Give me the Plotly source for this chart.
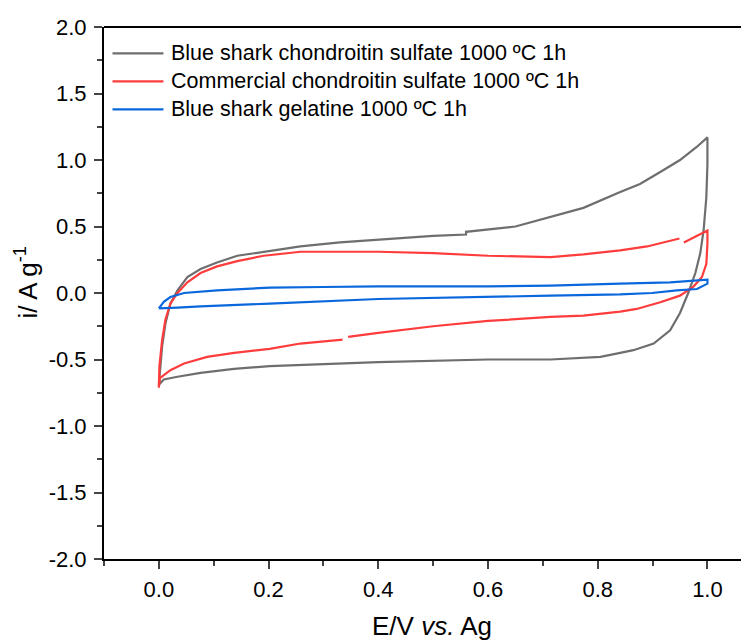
import plotly.graph_objects as go

# Blue shark chondroitin sulfate 1000 ºC 1h (forward sweep, then reverse sweep)
gray_x = [0.0, 0.003, 0.006, 0.012, 0.021, 0.034, 0.052, 0.076, 0.106, 0.143, 0.191, 0.258, 0.33, 0.40, 0.50, 0.56, 0.56, 0.65,
          0.714, 0.774, 0.841, 0.877, 0.914, 0.950, 0.981, 1.0,
          1.0, 0.998, 0.993, 0.987, 0.978, 0.965, 0.950, 0.932, 0.902, 0.865, 0.841, 0.805, 0.714, 0.60, 0.40,
          0.258, 0.202, 0.137, 0.076, 0.034, 0.009, 0.0]
gray_y = [-0.69, -0.55, -0.40, -0.23, -0.08, 0.02, 0.12, 0.18, 0.23, 0.28, 0.31, 0.35, 0.38, 0.40, 0.43, 0.44, 0.46, 0.50,
          0.57, 0.64, 0.76, 0.82, 0.91, 1.00, 1.10, 1.17,
          0.97, 0.72, 0.47, 0.30, 0.15, 0.00, -0.15, -0.28, -0.38, -0.43, -0.45, -0.48, -0.50, -0.50, -0.52,
          -0.54, -0.55, -0.57, -0.60, -0.63, -0.65, -0.69]

# Commercial chondroitin sulfate 1000 ºC 1h
red_x = [0.0, 0.001, 0.006, 0.012, 0.021, 0.034, 0.052, 0.076, 0.106, 0.143, 0.191, 0.258, 0.30, 0.40, 0.50, 0.60,
         0.714, 0.774, 0.841, 0.890, 0.949, None, 0.957, 1.0,
         1.0, 0.998, 0.990, 0.975, 0.950, 0.914, 0.871, 0.841, 0.774, 0.714, 0.60, 0.50, 0.40, 0.345, None, 0.335,
         0.258, 0.202, 0.137, 0.088, 0.046, 0.021, 0.002, 0.0]
red_y = [-0.71, -0.55, -0.35, -0.20, -0.08, 0.00, 0.08, 0.15, 0.20, 0.24, 0.28, 0.31, 0.31, 0.31, 0.30, 0.28,
         0.27, 0.29, 0.32, 0.35, 0.41, None, 0.38, 0.47,
         0.37, 0.22, 0.12, 0.05, -0.02, -0.07, -0.12, -0.14, -0.17, -0.18, -0.21, -0.25, -0.30, -0.33, None, -0.35,
         -0.38, -0.42, -0.45, -0.48, -0.53, -0.58, -0.64, -0.71]

# Blue shark gelatine 1000 ºC 1h
blue_x = [0.0, 0.009, 0.021, 0.046, 0.106, 0.202, 0.30, 0.40, 0.60, 0.714, 0.841, 0.932, 1.0,
          1.0, 0.981, 0.944, 0.899, 0.841, 0.714, 0.60, 0.40, 0.202, 0.137, 0.082, 0.076, 0.034, 0.003, 0.0]
blue_y = [-0.116, -0.066, -0.03, 0.00, 0.02, 0.04, 0.045, 0.05, 0.05, 0.055, 0.07, 0.08, 0.10,
          0.07, 0.03, 0.02, 0.00, -0.01, -0.02, -0.03, -0.045, -0.08, -0.09, -0.095, -0.10, -0.11, -0.12, -0.116]

names = ["Blue shark chondroitin sulfate 1000 ºC 1h",
         "Commercial chondroitin sulfate 1000 ºC 1h",
         "Blue shark gelatine 1000 ºC 1h"]
colors = ["#6e6e6e", "#ff3c3c", "#0a68dc"]

x_ticks = [0.0, 0.2, 0.4, 0.6, 0.8, 1.0]
y_ticks = [-2.0, -1.5, -1.0, -0.5, 0.0, 0.5, 1.0, 1.5, 2.0]
x_title = "E/V <i>vs.</i> Ag"
y_title = "i/ A g<sup>-1</sup>"

FONT = "Liberation Sans, Arial, sans-serif"

# figure geometry (page body adds 8px offset)
W, H = 741, 633
L, T = 95.5, 18.5
B_PX = 551.3
PW, PH = W - L, B_PX - T


def px_to_paper(px, py):
    return (px - L) / PW, (B_PX - py) / PH


fig = go.Figure()
for xs, ys, n, c in zip([gray_x, red_x, blue_x], [gray_y, red_y, blue_y], names, colors):
    fig.add_trace(go.Scatter(x=xs, y=ys, mode="lines", name=n, showlegend=False,
                             line=dict(color=c, width=2.2), connectgaps=False))

shapes = [dict(type="line", xref="paper", yref="paper", x0=0, x1=1, y0=1, y1=1,
               line=dict(color="black", width=2))]
annotations = []
# manual legend
for i, (n, c) in enumerate(zip(names, colors)):
    ypx = 45 + 28 * i
    x0, y0 = px_to_paper(104, ypx)
    x1, _ = px_to_paper(155, ypx)
    shapes.append(dict(type="line", xref="paper", yref="paper", x0=x0, x1=x1, y0=y0, y1=y0,
                       line=dict(color=c, width=2.2)))
    tx, _ = px_to_paper(161, ypx)
    annotations.append(dict(text=n, xref="paper", yref="paper", x=tx, y=y0, xanchor="left",
                            yanchor="middle", showarrow=False, font=dict(size=21.5, color="black")))

# axis titles
annotations.append(dict(text=x_title, xref="paper", yref="paper", x=(424 - L) / PW, y=0,
                        xanchor="center", yanchor="middle", yshift=-67, showarrow=False,
                        font=dict(size=26, color="black")))
annotations.append(dict(text=y_title, xref="paper", yref="paper", x=0, y=(B_PX - 274) / PH,
                        xanchor="center", yanchor="middle", xshift=-(L - 18), textangle=-90,
                        showarrow=False, font=dict(size=26, color="black")))

fig.update_layout(
    width=W, height=H,
    margin=dict(l=L, r=0, t=T, b=H - B_PX, autoexpand=False),
    plot_bgcolor="white", paper_bgcolor="white",
    font=dict(family=FONT, color="black", size=22),
    showlegend=False,
    xaxis=dict(range=[-0.1, -0.1 + PW / 549.0], tickvals=x_ticks, ticktext=[f"{v:.1f}" for v in x_ticks],
               ticks="outside", ticklen=8, tickwidth=2, showline=True, linewidth=2, linecolor="black",
               showgrid=False, zeroline=False, tickfont=dict(size=22), ticklabelstandoff=2,
               minor=dict(dtick=0.1, tick0=0, ticks="outside", ticklen=5, tickwidth=2, showgrid=False)),
    yaxis=dict(range=[-2.0, 2.0], tickvals=y_ticks, ticktext=[f"{v:.1f}" for v in y_ticks],
               ticks="outside", ticklen=8, tickwidth=2, showline=True, linewidth=2, linecolor="black",
               showgrid=False, zeroline=False, tickfont=dict(size=22), ticklabelstandoff=3,
               minor=dict(dtick=0.25, tick0=0, ticks="outside", ticklen=5, tickwidth=2, showgrid=False)),
    shapes=shapes,
    annotations=annotations,
)

fig.write_html("out.html")
